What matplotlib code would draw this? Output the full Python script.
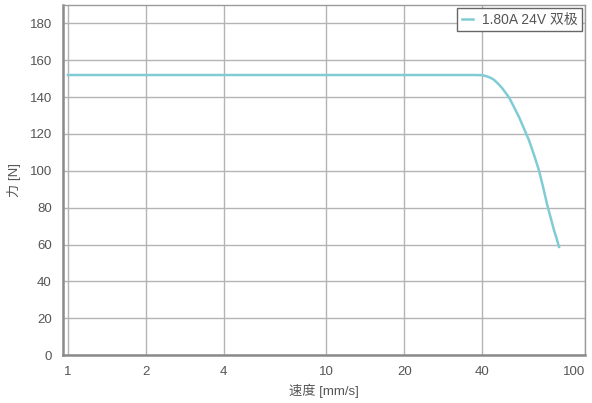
import matplotlib
matplotlib.use('Agg')
import matplotlib.pyplot as plt
from matplotlib.ticker import FixedLocator, NullLocator

plt.rcParams['font.family'] = ['Liberation Sans', 'Noto Sans CJK SC', 'DejaVu Sans']

# 速度 [mm/s] と 力 [N]
speed = [1, 38, 40, 41.5, 43, 44.3, 46, 47.9, 50.9, 53, 55.6, 58, 60.8, 63.5, 66.4, 69, 71.5, 73.8, 75.9, 77.8, 79.4]
force = [152, 152, 151.9, 151.4, 150.6, 149.6, 147.5, 144.8, 139.8, 135, 129.2, 123.2, 116.5, 108.8, 100.3, 90.8, 81.5, 74.3, 67.9, 63.1, 58.7]
label = '1.80A 24V 双极'

x_ticks = [1, 2, 4, 10, 20, 40, 100]
y_ticks = [0, 20, 40, 60, 80, 100, 120, 140, 160, 180]

fig = plt.figure(figsize=(5.92, 4.03), dpi=100)
ax = fig.add_axes([0.1064, 0.119, 0.8816, 0.8686])

ax.plot(speed, force, color='#80ccd4', lw=1.8, label=label)

ax.set_xscale('log')
ax.set_xlim(0.957, 100)
ax.set_ylim(0, 190)
ax.xaxis.set_major_locator(FixedLocator(x_ticks))
ax.xaxis.set_minor_locator(NullLocator())
ax.set_xticklabels([str(t) for t in x_ticks])
ax.set_yticks(y_ticks)
ax.get_xticklabels()[-1].set_horizontalalignment('right')

ax.grid(True, color='#b4b4b4', lw=1)
ax.set_axisbelow(True)
for s in ['top', 'right']:
    ax.spines[s].set_color('#9a9a9a')
    ax.spines[s].set_linewidth(1)
for s in ['left', 'bottom']:
    ax.spines[s].set_color('#8a8a8a')
    ax.spines[s].set_linewidth(1.8)

ax.tick_params(length=0, labelsize=9.5, colors='#555555', pad=8)
ax.set_xlabel('速度 [mm/s]', fontsize=9.5, color='#555555', labelpad=4)
ax.set_ylabel('力 [N]', fontsize=9.5, color='#555555', labelpad=6)

leg = ax.legend(loc='upper right', fontsize=10, fancybox=False, framealpha=1,
                edgecolor='#666666', borderaxespad=0.2, handlelength=0.8,
                handletextpad=0.6, borderpad=0.35)
leg.get_frame().set_linewidth(1)
for t in leg.get_texts():
    t.set_color('#555555')

fig.savefig('out.png', dpi=100)
